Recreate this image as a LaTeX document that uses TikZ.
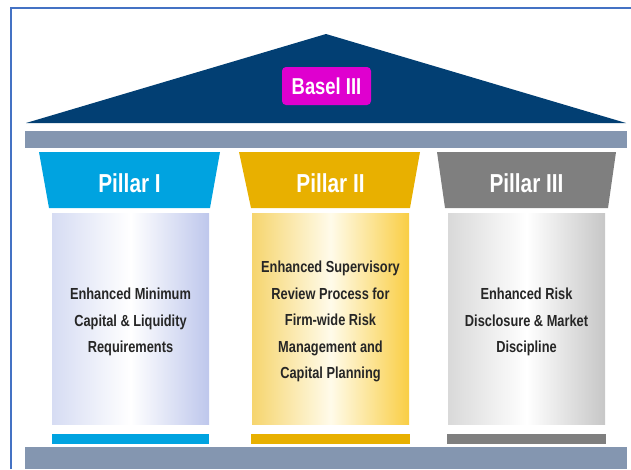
\documentclass[tikz,border=0pt]{standalone}
\usepackage{fontspec}
\setmainfont{Liberation Sans}[FakeStretch=0.8]
\usepackage{xcolor}
\usetikzlibrary{positioning}
\definecolor{roofblue}{HTML}{023F73}
\definecolor{baselpink}{HTML}{DF00CF}
\definecolor{beamgrey}{HTML}{8496B0}
\definecolor{frameblue}{HTML}{4472C4}
\definecolor{pillarcyan}{HTML}{00A3E0}
\definecolor{pillargold}{HTML}{E8B000}
\definecolor{pillargrey}{HTML}{7F7F7F}
\definecolor{bodytext}{HTML}{262626}

\begin{document}
\begin{tikzpicture}[
  x=1pt,y=-1pt,
  beam/.style={fill=beamgrey},
  title/.style={text=white,inner sep=0pt,font=\bfseries\fontsize{26}{30}\selectfont},
  body/.style={minimum width=157pt,minimum height=211pt,inner sep=0pt},
  desc/.style={align=center,inner sep=0pt,text=bodytext,
               font=\bfseries\fontsize{16}{26.5}\selectfont}
]
\useasboundingbox (0,0) rectangle (631,469);
\draw[frameblue,line width=1.5pt] (11,469) -- (11,8) -- (631,8);
% roof and beams
\fill[roofblue] (26,123) -- (326,34) -- (626,123) -- cycle;
\node[fill=baselpink,rounded corners=4pt,minimum width=89pt,minimum height=38pt,
      text=white,font=\bfseries\fontsize{23}{26}\selectfont] (basel) at (326.5,86) {Basel III};
\fill[beam] (25,131) rectangle (627,148);
\fill[beam] (25,447) rectangle (627,469);
% pillar heads
\fill[pillarcyan] (39,152) -- (220,152) -- (210,208) -- (49,208) -- cycle;
\fill[pillargold] (239,152) -- (420,152) -- (410,208) -- (251,208) -- cycle;
\fill[pillargrey] (437,152) -- (616,152) -- (608,208) -- (445,208) -- cycle;
\node[title] (head1) at (129.5,183) {Pillar I};
\node[title] (head2) at (330.5,183) {Pillar II};
\node[title] (head3) at (526.5,183) {Pillar III};
% pillar bodies
\node[body,left color={rgb,255:red,214;green,220;blue,243},right color={rgb,255:red,190;green,199;blue,236},
      middle color=white] (body1) at (130.5,318.5) {};
\node[body,left color={rgb,255:red,246;green,213;blue,110},right color={rgb,255:red,249;green,206;blue,69},
      middle color={rgb,255:red,255;green,251;blue,234}] (body2) at (330.5,318.5) {};
\node[body,left color=black!15,right color=black!22,middle color=white] (body3) at (526.5,318.5) {};
\node[desc] (desc1) at ([yshift=-3.5pt]body1.center) {Enhanced Minimum\\Capital \& Liquidity\\Requirements};
\node[desc] (desc2) at ([yshift=-3pt]body2.center) {Enhanced Supervisory\\Review Process for\\Firm-wide Risk\\Management and\\Capital Planning};
\node[desc] (desc3) at ([yshift=-3.5pt]body3.center) {Enhanced Risk\\Disclosure \& Market\\Discipline};
% pillar bases
\fill[pillarcyan] (52,434) rectangle (209,444);
\fill[pillargold] (251,434) rectangle (410,444);
\fill[pillargrey] (447,434) rectangle (606,444);
\end{tikzpicture}
\end{document}
